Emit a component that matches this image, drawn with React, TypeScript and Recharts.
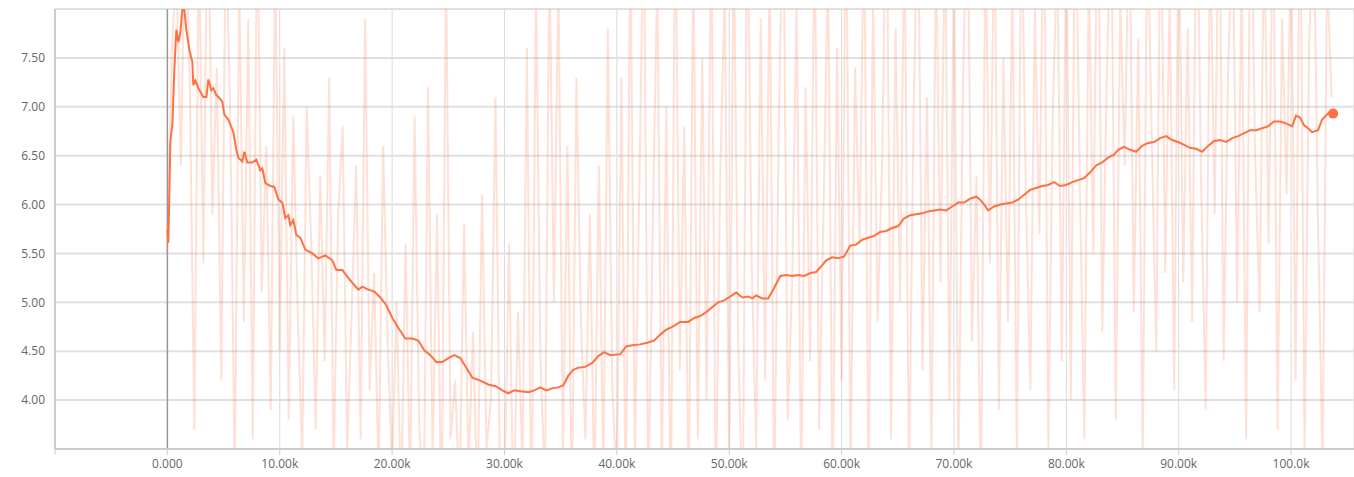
import React from 'react'
import {
  ComposedChart,
  Line,
  XAxis,
  YAxis,
  CartesianGrid,
  ReferenceLine,
  ReferenceDot,
} from 'recharts'

// x axis ticks (training step) and their labels
const xTicks = [-10000, 0, 10000, 20000, 30000, 40000, 50000, 60000, 70000, 80000, 90000, 100000]
const xLabels = ['', '0.000', '10.00k', '20.00k', '30.00k', '40.00k', '50.00k', '60.00k', '70.00k', '80.00k', '90.00k', '100.0k']

// y axis ticks, outer ones only draw a grid line
const yTicks = [3.5, 4, 4.5, 5, 5.5, 6, 6.5, 7, 7.5, 8]
const yLabels = ['', '4.00', '4.50', '5.00', '5.50', '6.00', '6.50', '7.00', '7.50', '']

// raw scalar, one value every 400 steps
const rawInterval = 400
const rawValues = [
  // 0 - 10k
  5.5, 7.6, 8.4, 6.4, 9.1, 7.2, 3.7, 8.8, 5.4, 9.5, 5.9, 7.4, 4.2, 8.9, 6.9, 3.2, 8.3, 4.8, 7.9, 3.6, 9.2, 5.1, 6.6, 3.9, 8.6,
  // 10k - 20k
  4.5, 7.6, 3.8, 6.9, 4.9, 3.4, 7.0, 5.6, 3.7, 6.3, 4.4, 7.3, 3.3, 5.9, 6.8, 3.5, 4.9, 6.4, 3.6, 7.9, 4.1, 5.3, 3.2, 6.6, 4.6,
  // 20k - 30k
  3.3, 5.0, 2.9, 5.6, 3.1, 6.9, 3.8, 2.8, 7.2, 3.4, 5.9, 2.7, 8.5, 3.6, 4.2, 3.0, 5.8, 3.3, 4.7, 2.9, 6.1, 3.5, 4.0, 7.1, 3.2,
  // 30k - 40k
  3.0, 5.6, 2.8, 4.9, 3.3, 7.6, 2.6, 8.3, 4.4, 3.1, 8.6, 5.0, 8.4, 3.4, 6.6, 2.9, 7.3, 4.8, 3.6, 5.9, 3.0, 6.4, 3.2, 7.8, 4.1,
  // 40k - 50k
  3.1, 7.3, 2.7, 8.9, 3.4, 6.2, 9.1, 2.9, 5.8, 8.4, 3.2, 7.0, 2.6, 9.3, 4.3, 6.8, 2.8, 8.7, 3.6, 7.5, 4.0, 9.0, 2.9, 6.3, 8.2,
  // 50k - 60k
  3.3, 8.8, 4.6, 2.7, 9.2, 5.4, 3.5, 7.9, 4.2, 8.6, 2.9, 6.7, 9.4, 3.8, 5.2, 8.1, 3.0, 7.2, 4.4, 9.0, 3.7, 6.0, 8.5, 2.8, 7.6,
  // 60k - 70k
  4.2, 9.3, 3.2, 7.4, 5.6, 9.0, 3.0, 8.2, 4.8, 6.4, 9.5, 3.6, 7.8, 5.0, 8.9, 3.1, 6.9, 9.2, 4.3, 7.1, 3.4, 8.7, 5.2, 9.0, 4.0,
  // 70k - 80k
  8.6, 3.2, 7.2, 9.4, 4.6, 6.3, 2.9, 8.8, 5.4, 9.1, 3.9, 7.5, 4.8, 8.3, 3.3, 9.2, 6.1, 4.1, 8.0, 5.7, 9.4, 3.5, 7.0, 8.6, 4.4,
  // 80k - 90k
  8.9, 4.0, 9.5, 6.2, 3.6, 8.4, 5.5, 9.6, 4.7, 7.3, 9.1, 3.8, 8.1, 6.4, 9.3, 4.9, 7.7, 3.4, 9.0, 6.7, 4.5, 9.4, 5.3, 8.2, 4.1,
  // 90k - 100k
  9.2, 5.2, 7.8, 4.8, 9.6, 6.2, 3.9, 8.8, 5.9, 9.5, 4.4, 7.4, 9.0, 5.0, 8.3, 3.6, 9.7, 6.5, 4.9, 8.9, 5.6, 9.2, 3.7, 7.9, 6.1,
  // 100k - 103.6k
  8.8, 4.2, 9.5, 3.4, 7.6, 9.1, 5.8, 3.3, 8.4, 7.1,
]

// smoothed scalar
const smoothSteps = [
  0, 90, 270, 440, 620, 800, 980, 1160, 1330, 1510, 1690, 1960, 2220, 2310, 2490, 2760, 3200, 3470, 3650, 3910,
  4090, 4360, 4630, 4890, 5070, 5430, 5870, 6140, 6320, 6670, 6850, 7120, 7560, 7920, 8270, 8450, 8720, 9160, 9520, 9880,
  10230, 10500, 10770, 10940, 11210, 11480, 11830, 12280, 12900, 13430, 14060, 14680, 15040, 15570, 16100, 16460, 16990, 17350, 17880, 18420,
  18950, 19480, 20020, 20550, 21170, 21800, 22330, 22860, 23400, 23930, 24470, 25000, 25530, 26070, 26600, 27140, 27850, 28560, 29270, 29800,
  30340, 30870, 31410, 32120, 32650, 33190, 33720, 34250, 34790, 35230, 35680, 36120, 36570, 37190, 37810, 38350, 38880, 39410, 40300, 40840,
  41370, 42080, 42790, 43330, 43860, 44400, 44930, 45640, 46350, 46890, 47420, 47950, 48490, 49020, 49560, 50090, 50620, 51160, 51690, 52050,
  52400, 52940, 53470, 54000, 54540, 55070, 55600, 56140, 56670, 57210, 57740, 58270, 58630, 59160, 59700, 60230, 60770, 61300, 61830, 62370,
  62900, 63430, 63970, 64500, 65040, 65570, 66100, 66640, 67170, 67700, 68240, 68770, 69310, 69840, 70370, 70910, 71440, 71980, 72330, 72690,
  73040, 73580, 74110, 74640, 75180, 75710, 76250, 76780, 77310, 77850, 78380, 78910, 79450, 79980, 80520, 81050, 81580, 82120, 82650, 83190,
  83720, 84250, 84610, 85140, 85680, 86210, 86740, 87280, 87810, 88350, 88880, 89410, 89950, 90480, 91010, 91550, 92080, 92620, 93150, 93680,
  94220, 94750, 95280, 95820, 96350, 96890, 97420, 97950, 98490, 99020, 99560, 100090, 100440, 100800, 101160, 101510, 101870, 102400, 102760, 103110,
  103470, 103740,
]
const smoothValues = [
  5.74, 5.61, 6.66, 6.81, 7.38, 7.79, 7.66, 7.76, 7.99, 7.99, 7.79, 7.58, 7.46, 7.22, 7.27, 7.19, 7.1, 7.1, 7.28, 7.17,
  7.19, 7.12, 7.09, 7.05, 6.92, 6.87, 6.74, 6.56, 6.48, 6.44, 6.54, 6.43, 6.43, 6.46, 6.35, 6.37, 6.22, 6.19, 6.18, 6.05,
  6.02, 5.86, 5.89, 5.79, 5.84, 5.69, 5.66, 5.54, 5.5, 5.45, 5.48, 5.43, 5.33, 5.33, 5.25, 5.2, 5.13, 5.16, 5.13, 5.11,
  5.05, 4.97, 4.84, 4.74, 4.63, 4.63, 4.61, 4.51, 4.46, 4.39, 4.39, 4.43, 4.46, 4.43, 4.33, 4.23, 4.2, 4.16, 4.14, 4.1,
  4.07, 4.1, 4.09, 4.08, 4.1, 4.13, 4.1, 4.12, 4.13, 4.15, 4.25, 4.31, 4.33, 4.34, 4.38, 4.45, 4.49, 4.46, 4.47, 4.55,
  4.56, 4.57, 4.59, 4.61, 4.67, 4.72, 4.75, 4.8, 4.8, 4.84, 4.86, 4.9, 4.95, 5.0, 5.02, 5.06, 5.1, 5.05, 5.06, 5.04,
  5.07, 5.04, 5.04, 5.15, 5.27, 5.28, 5.27, 5.28, 5.27, 5.3, 5.31, 5.38, 5.43, 5.46, 5.45, 5.47, 5.58, 5.59, 5.64, 5.66,
  5.68, 5.72, 5.73, 5.76, 5.78, 5.86, 5.89, 5.9, 5.91, 5.93, 5.94, 5.95, 5.94, 5.98, 6.02, 6.02, 6.06, 6.08, 6.05, 6.0,
  5.94, 5.98, 6.0, 6.01, 6.02, 6.05, 6.1, 6.15, 6.17, 6.19, 6.2, 6.23, 6.19, 6.2, 6.23, 6.25, 6.27, 6.33, 6.4, 6.43,
  6.48, 6.51, 6.56, 6.59, 6.56, 6.54, 6.6, 6.63, 6.64, 6.68, 6.7, 6.66, 6.64, 6.61, 6.58, 6.57, 6.54, 6.6, 6.65, 6.66,
  6.64, 6.68, 6.7, 6.73, 6.76, 6.76, 6.78, 6.8, 6.85, 6.85, 6.83, 6.8, 6.91, 6.89, 6.81, 6.78, 6.74, 6.76, 6.87, 6.91,
  6.95, 6.93,
]

const rawData = rawValues.map((v, i) => ({ step: i * rawInterval, value: v }))
const smoothData = smoothSteps.map((s, i) => ({ step: s, value: smoothValues[i] }))
const last = smoothData[smoothData.length - 1]

const lineColor = '#ff7043'
const tickStyle = { fontSize: 12, fill: '#666', fontFamily: '"Open Sans", "Noto Sans", sans-serif' }

export default function App() {
  return (
    <div style={{ position: 'absolute', left: 0, top: 0, width: 1354, height: 477, background: '#fff' }}>
      <ComposedChart width={1354} height={477} margin={{ top: 9, right: 0, bottom: 0, left: 0 }}>
        <CartesianGrid horizontal={false} stroke="#dadada" strokeWidth={1} />
        <CartesianGrid vertical={false} stroke="#e0e0e0" strokeWidth={2} />
        <XAxis
          type="number"
          dataKey="step"
          domain={[-10000, 105600]}
          ticks={xTicks}
          allowDataOverflow
          height={28}
          tick={tickStyle}
          tickFormatter={(v: number) => xLabels[xTicks.indexOf(v)] ?? ''}
          tickSize={6}
          tickMargin={4}
          stroke="#ccc"
          axisLine={{ stroke: '#ccc', strokeWidth: 2 }}
          tickLine={{ stroke: '#ccc' }}
        />
        <YAxis
          type="number"
          domain={[3.5, 8]}
          ticks={yTicks}
          allowDataOverflow
          width={55}
          tick={tickStyle}
          tickFormatter={(v: number) => yLabels[yTicks.indexOf(v)] ?? ''}
          tickSize={0}
          tickMargin={10}
          axisLine={{ stroke: '#ccc', strokeWidth: 2 }}
        />
        <ReferenceLine x={0} stroke="#999" strokeWidth={1.5} />
        <Line
          data={rawData}
          dataKey="value"
          type="linear"
          stroke={lineColor}
          strokeOpacity={0.22}
          strokeWidth={2}
          dot={false}
          activeDot={false}
          isAnimationActive={false}
        />
        <Line
          data={smoothData}
          dataKey="value"
          type="linear"
          stroke={lineColor}
          strokeWidth={2}
          dot={false}
          activeDot={false}
          isAnimationActive={false}
        />
        <ReferenceDot x={last.step} y={last.value} r={5} fill={lineColor} stroke="none" />
      </ComposedChart>
    </div>
  )
}
